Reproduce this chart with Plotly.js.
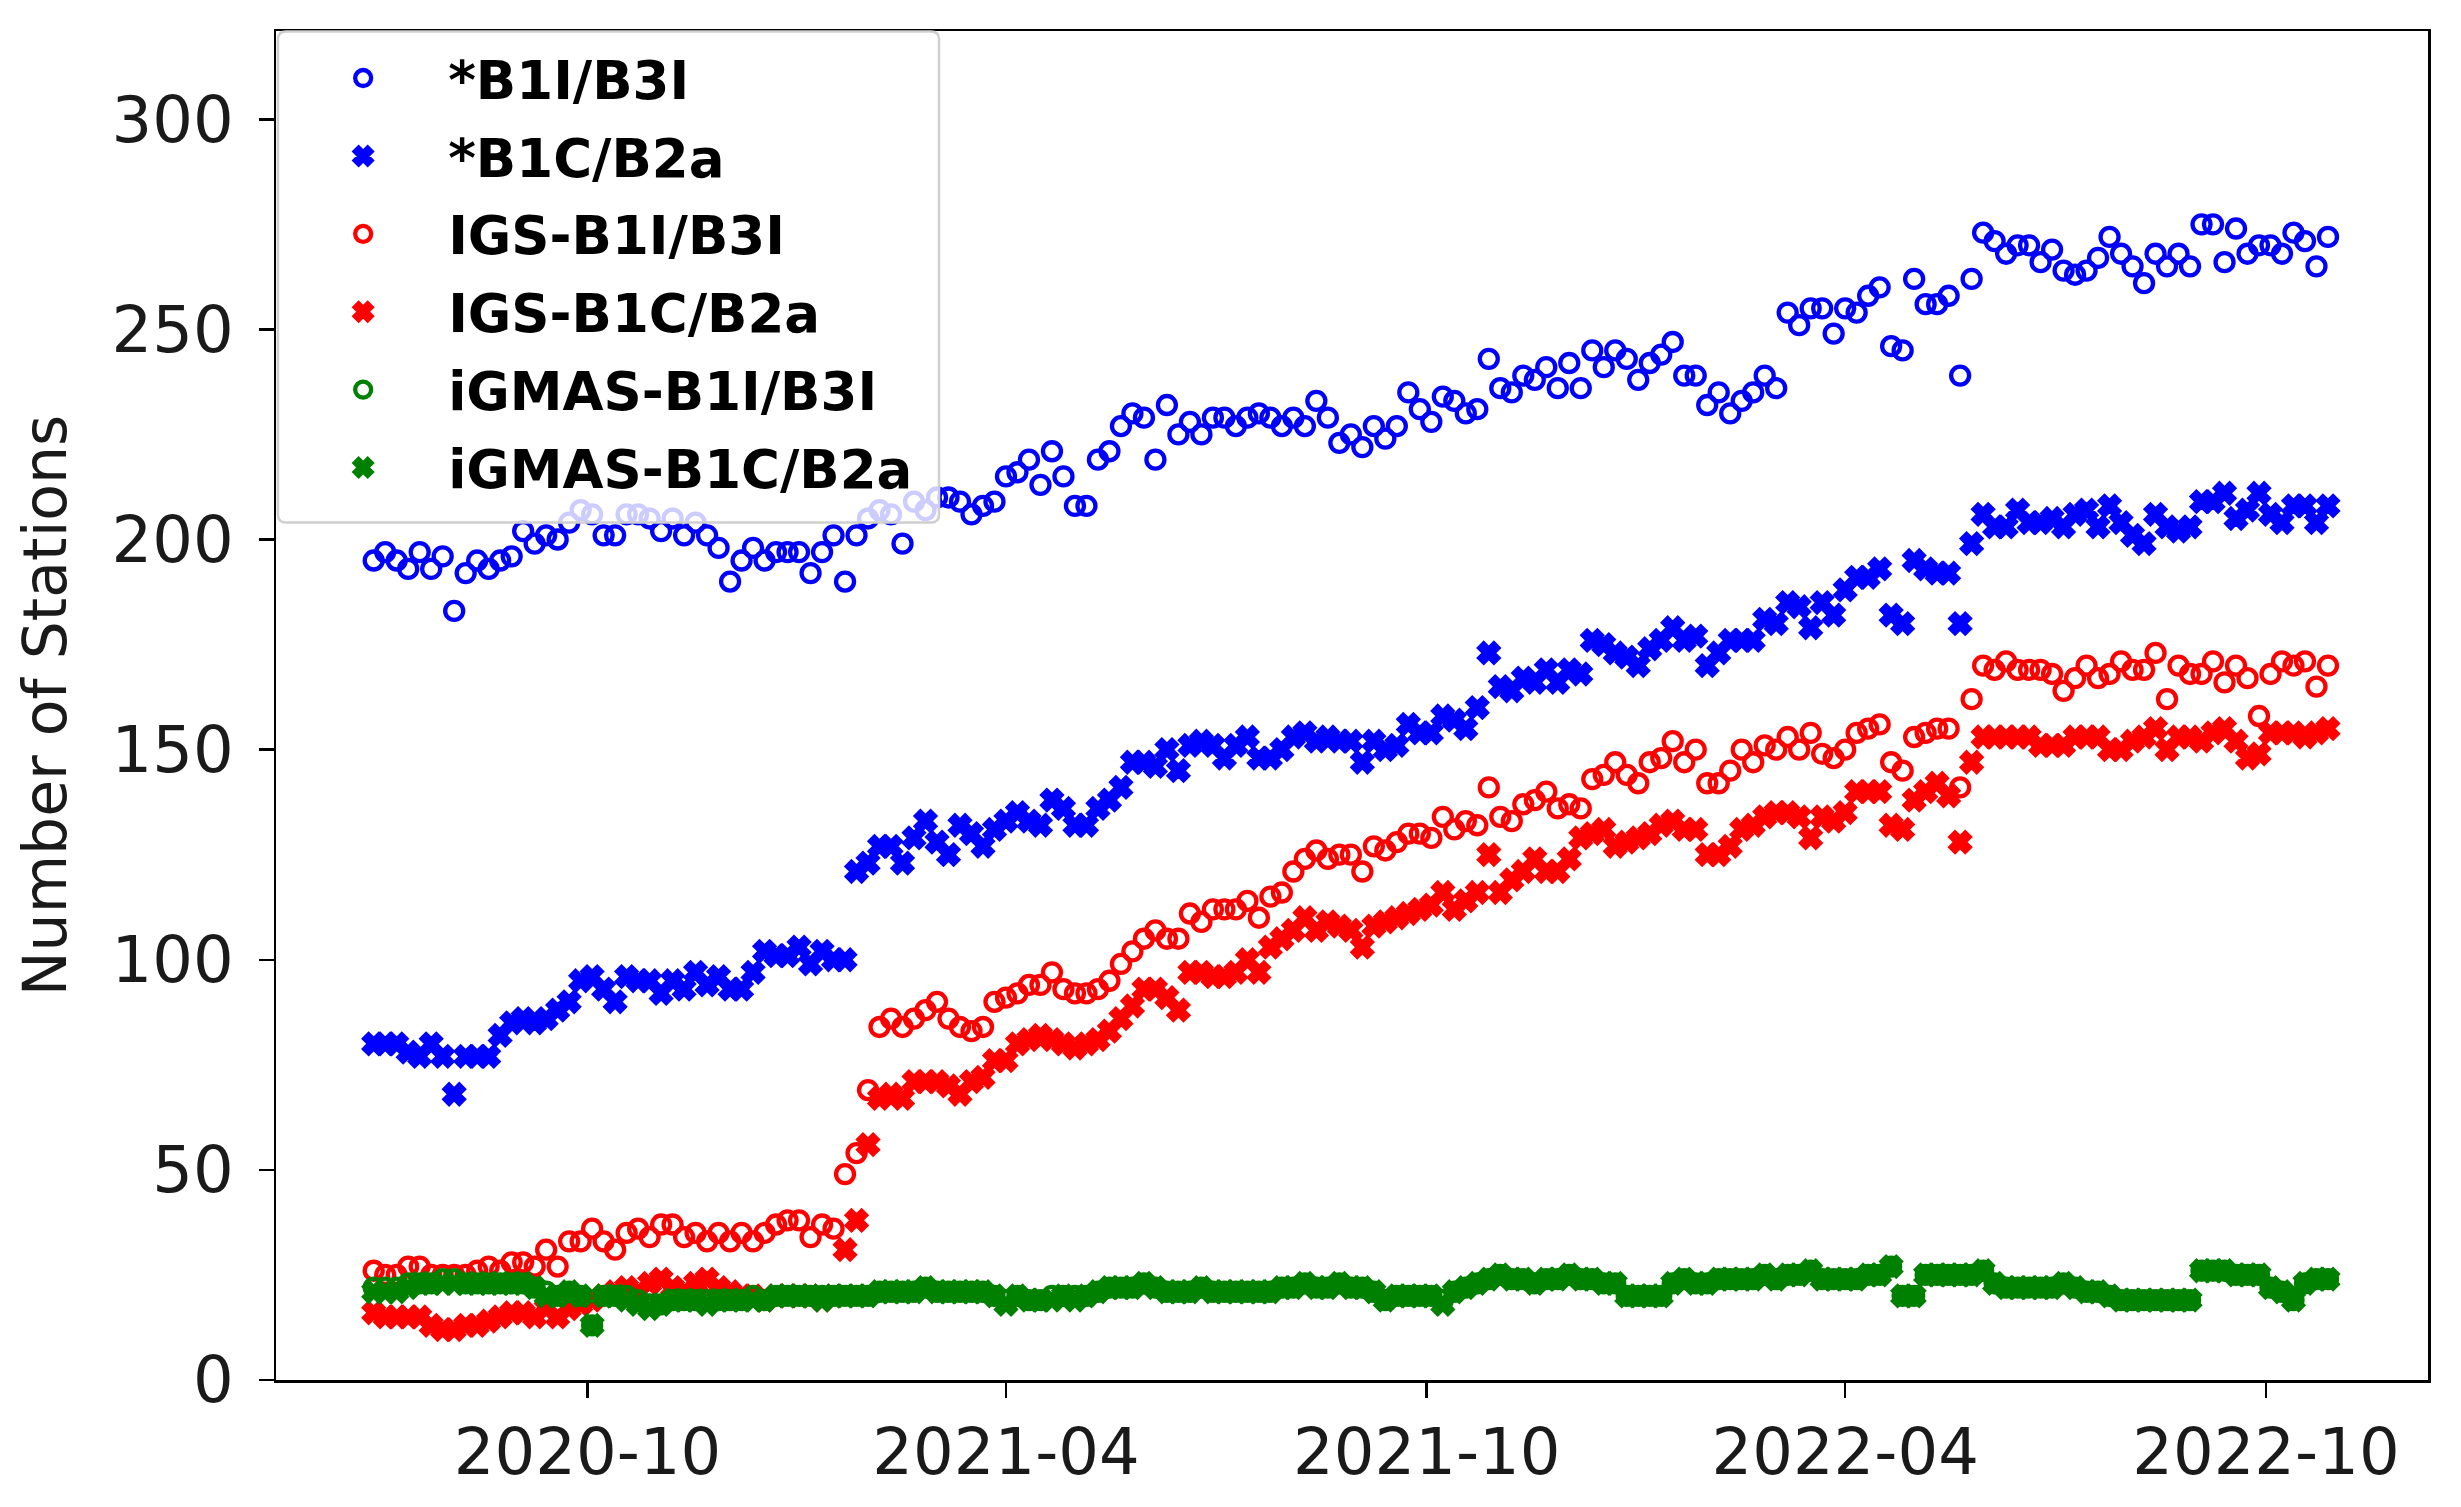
<!DOCTYPE html>
<html><head><meta charset="utf-8">
<script src="https://cdn.plot.ly/plotly-3.0.1.min.js"></script>
<style>html,body{margin:0;padding:0;background:#fff}#chart{width:2461px;height:1507px}</style>
</head><body><div id="chart"></div>
<script>
// Observation grid: one sample every 5 days starting 2020-06-30
const startDate = '2020-06-30';
const stepDays = 5;

const seriesNames = ['*B1I/B3I', '*B1C/B2a', 'IGS-B1I/B3I', 'IGS-B1C/B2a', 'iGMAS-B1I/B3I', 'iGMAS-B1C/B2a'];

const allB1I = [
195,197,195,193,197,193,196,183,192,195,
193,195,196,202,199,201,200,204,207,206,
201,201,206,206,205,202,205,201,204,201,
198,190,195,198,195,197,197,197,192,197,
201,190,201,205,207,206,199,209,207,210,
210,209,206,208,209,215,216,219,213,221,
215,208,208,219,221,227,230,229,219,232,
225,228,225,229,229,227,229,230,229,227,
229,227,233,229,223,225,222,227,224,227,
235,231,228,234,233,230,231,243,236,235,
239,238,241,236,242,236,245,241,245,243,
238,242,244,247,239,239,232,235,230,233,
235,239,236,254,251,255,255,249,255,254,
258,260,246,245,262,256,256,258,239,262,
273,271,268,270,270,266,269,264,263,264,
267,272,268,265,261,268,265,268,265,275,
275,266,274,268,270,270,268,273,271,265,272];

const allB1C = [
80,80,80,78,77,80,77,68,77,77,
77,82,85,86,85,86,88,90,95,96,
93,90,96,95,95,92,95,93,97,94,
96,93,93,97,102,101,101,103,99,102,
100,100,121,123,127,127,123,129,133,128,
125,132,130,127,131,133,135,133,132,138,
136,132,132,136,138,141,147,147,146,150,
145,151,152,151,148,151,153,148,148,150,
153,154,152,153,152,152,147,152,150,151,
156,154,154,158,157,155,160,173,165,164,
167,166,169,166,169,168,176,175,173,172,
170,174,176,179,176,177,170,173,176,176,
176,181,180,185,184,179,185,182,188,191,
191,193,182,180,195,193,192,192,180,199,
206,203,203,207,204,204,205,203,206,207,
203,208,204,201,199,206,203,202,203,209,
209,211,205,207,211,206,204,208,208,204,208];

const igsB1I = [
26,25,25,27,27,25,25,25,25,26,
27,26,28,28,27,31,27,33,33,36,
33,31,35,36,34,37,37,34,35,33,
35,33,35,33,35,37,38,38,34,37,
36,49,54,69,84,86,84,86,88,90,
86,84,83,84,90,91,92,94,94,97,
93,92,92,93,95,99,102,105,107,105,
105,111,109,112,112,112,114,110,115,116,
121,124,126,124,125,125,121,127,126,128,
130,130,129,134,131,133,132,141,134,133,
137,138,140,136,137,136,143,144,147,144,
142,147,148,152,147,150,142,142,145,150,
147,151,150,153,150,154,149,148,150,154,
155,156,147,145,153,154,155,155,141,162,
170,169,171,169,169,169,168,164,167,170,
167,168,171,169,169,173,162,170,168,168,
171,166,170,167,158,168,171,170,171,165,170];

const igsB1C = [
16,15,15,15,15,13,12,12,13,13,
14,15,16,16,15,17,15,17,18,19,
20,21,22,21,23,24,22,21,23,24,
22,21,20,20,19,20,20,20,20,19,
20,31,38,56,67,68,67,71,71,71,
70,68,71,72,76,76,80,81,82,81,
80,79,80,81,83,86,89,93,93,91,
88,97,97,96,96,97,100,97,103,105,
107,110,107,109,108,107,103,108,109,110,
111,112,113,116,112,114,116,125,116,119,
121,124,121,121,124,129,130,131,127,128,
129,130,132,133,131,131,125,125,127,131,
132,134,135,135,134,129,134,133,135,140,
140,140,132,131,138,140,142,139,128,147,
153,153,153,153,153,151,151,151,153,153,
153,150,150,152,153,155,150,153,153,152,
154,155,152,148,149,154,154,154,153,154,155];

const igmasB1I = [
22,22,22,23,23,23,24,24,23,23,
23,23,23,23,22,21,20,21,20,13,
20,20,20,19,18,18,19,19,19,19,
19,19,19,20,19,20,20,20,20,20,
20,20,20,20,21,21,21,21,22,21,
21,21,21,21,20,19,20,19,19,20,
20,20,20,21,22,22,22,23,22,21,
21,21,22,21,21,21,21,21,21,22,
22,23,22,22,23,22,22,21,19,20,
20,20,20,19,21,22,23,24,25,24,
24,23,24,24,25,24,24,23,23,20,
20,20,20,23,24,23,23,24,24,24,
24,25,24,25,25,26,24,24,24,24,
25,25,27,20,20,25,25,25,25,25,
26,23,22,22,22,22,22,23,22,21,
21,20,19,19,19,19,19,19,19,26,
26,26,25,25,25,22,21,19,23,24,24];

const igmasB1C = [
21,21,21,22,23,23,23,23,23,23,
23,23,23,23,22,20,20,21,20,13,
20,20,19,18,17,18,19,19,19,18,
19,19,19,19,19,20,20,20,20,19,
20,20,20,20,21,21,21,21,22,21,
21,21,21,21,20,18,20,19,19,19,
20,19,20,21,22,22,22,23,22,21,
21,21,22,21,21,21,21,21,21,22,
22,23,22,22,23,22,22,21,19,20,
20,20,20,18,21,22,23,24,25,24,
24,23,24,24,25,24,24,23,23,20,
20,20,20,23,24,23,23,24,24,24,
24,25,24,25,25,26,24,24,24,24,
25,25,27,20,20,25,25,25,25,25,
26,23,22,22,22,22,22,23,22,21,
21,20,19,19,19,19,19,19,19,26,
26,26,25,25,25,22,21,19,23,24,24];

const xTickVals = ['2020-10-01', '2021-04-01', '2021-10-01', '2022-04-01', '2022-10-01'];
const xTickText = ['2020-10', '2021-04', '2021-10', '2022-04', '2022-10'];
const yTickVals = [0, 50, 100, 150, 200, 250, 300];
const yTickText = ['0', '50', '100', '150', '200', '250', '300'];

const t0 = Date.UTC(2020, 5, 30);
const dates = allB1I.map((_, i) => new Date(t0 + i * stepDays * 86400000).toISOString().slice(0, 10));

const seriesValues = [allB1I, allB1C, igsB1I, igsB1C, igmasB1I, igmasB1C];
const colors = ['#0000ff', '#0000ff', '#ff0000', '#ff0000', '#008000', '#008000'];
const isOpen = [true, false, true, false, true, false];

const traces = seriesValues.map((vals, i) => ({
  type: 'scatter', mode: 'markers', x: dates, y: vals, name: seriesNames[i],
  legendgroup: 'g' + i,
  marker: isOpen[i]
    ? {symbol: 'circle-open', size: 18, color: colors[i], line: {width: 4.3, color: colors[i]}}
    : {symbol: 'x', size: 18, color: colors[i], line: {width: 3.5, color: colors[i]}}
}));

const axisCommon = {
  showline: true, linewidth: 2.5, linecolor: '#000', mirror: true,
  ticks: 'outside', ticklen: 15, tickwidth: 2.5, tickcolor: '#000',
  showgrid: false, zeroline: false,
  tickfont: {family: 'DejaVu Sans', size: 64, color: '#1a1a1a'}
};

// legend frame (semi-transparent, drawn over the markers like the original)
const bx0 = 0.0009, bx1 = 0.3081, by0 = 0.6356, by1 = 0.9997, rx = 0.0037, ry = 0.0059;
const framePath = `M ${bx0 + rx},${by0} L ${bx1 - rx},${by0} Q ${bx1},${by0} ${bx1},${by0 + ry} ` +
  `L ${bx1},${by1 - ry} Q ${bx1},${by1} ${bx1 - rx},${by1} L ${bx0 + rx},${by1} ` +
  `Q ${bx0},${by1} ${bx0},${by1 - ry} L ${bx0},${by0 + ry} Q ${bx0},${by0} ${bx0 + rx},${by0} Z`;

const layout = {
  width: 2461, height: 1507,
  margin: {l: 276, r: 33, t: 31, b: 127},
  paper_bgcolor: '#fff', plot_bgcolor: '#fff',
  showlegend: true,
  xaxis: Object.assign({}, axisCommon, {
    type: 'date', range: ['2020-05-18 12:00', '2022-12-10 12:00'],
    tickmode: 'array', tickvals: xTickVals, ticktext: xTickText
  }),
  yaxis: Object.assign({}, axisCommon, {
    range: [0, 321], tickmode: 'array', tickvals: yTickVals, ticktext: yTickText,
    ticklabelstandoff: 12,
    title: {text: 'Number of Stations', font: {family: 'DejaVu Sans', size: 60, color: '#1a1a1a'}, standoff: 26}
  }),
  shapes: [{
    type: 'path', xref: 'paper', yref: 'paper', path: framePath, layer: 'above',
    fillcolor: 'rgba(255,255,255,0.8)', line: {color: '#cfcfcf', width: 2.5}
  }],
  legend: {
    x: 0.001, y: 0.9955, xanchor: 'left', yanchor: 'top',
    bgcolor: 'rgba(0,0,0,0)', borderwidth: 0,
    font: {family: 'DejaVu Sans', size: 53, color: '#000', weight: 'bold'},
    traceorder: 'grouped', tracegroupgap: 6, itemwidth: 160
  }
};

Plotly.newPlot('chart', traces, layout, {staticPlot: true, displayModeBar: false});
</script></body></html>
